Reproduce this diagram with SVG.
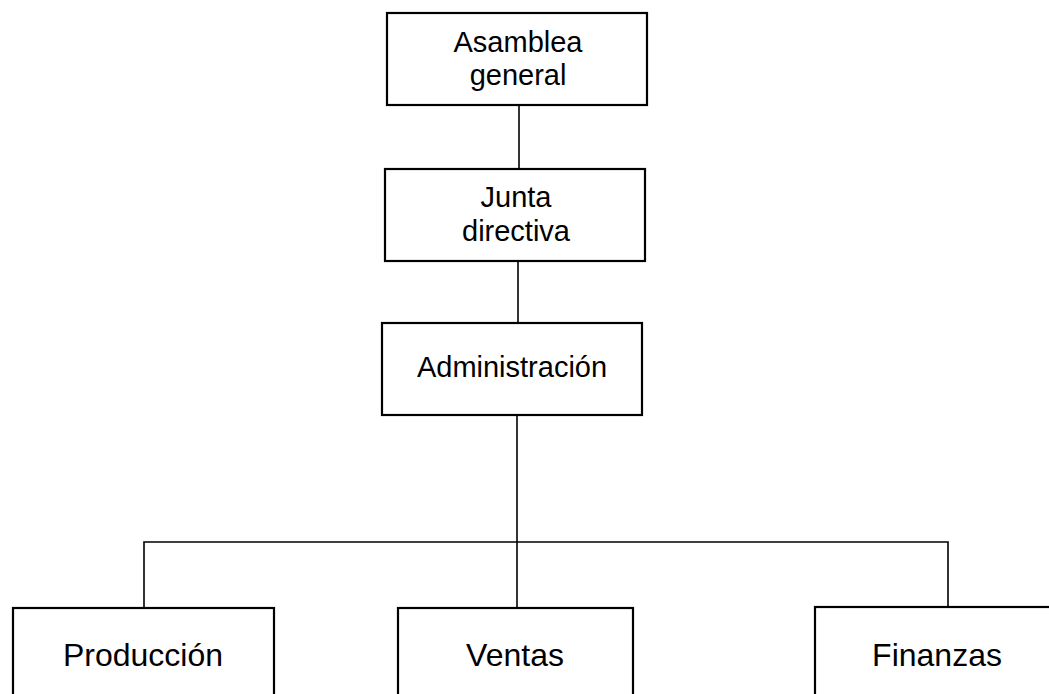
<svg xmlns="http://www.w3.org/2000/svg" width="1049" height="694" viewBox="0 0 1049 694">
<style>
.box{fill:#fff;stroke:#000;stroke-width:2.2}
.ln{fill:none;stroke:#000;stroke-width:1.6}
text{font-family:"Liberation Sans",Arial,sans-serif;font-size:29px;fill:#000;text-anchor:middle}
text.big{font-size:32px}
</style>
<rect width="1049" height="694" fill="#fff"/>
<g id="connectors">
<line class="ln" x1="519" y1="105" x2="519" y2="169"/>
<line class="ln" x1="518" y1="261" x2="518" y2="323"/>
<line class="ln" x1="517" y1="415" x2="517" y2="608"/>
<polyline class="ln" points="144,608 144,542 948,542 948,607"/>
</g>
<g id="asamblea">
<rect class="box" x="387" y="13" width="260" height="92"/>
<text x="518" y="52">Asamblea</text>
<text x="518" y="85">general</text>
</g>
<g id="junta">
<rect class="box" x="385" y="169" width="260" height="92"/>
<text x="516" y="207">Junta</text>
<text x="516" y="241">directiva</text>
</g>
<g id="administracion">
<rect class="box" x="382" y="323" width="260" height="92"/>
<text x="512" y="377">Administración</text>
</g>
<g id="produccion">
<rect class="box" x="13" y="608" width="261" height="100"/>
<text class="big" x="143" y="666">Producción</text>
</g>
<g id="ventas">
<rect class="box" x="398" y="608" width="235" height="100"/>
<text class="big" x="515" y="666">Ventas</text>
</g>
<g id="finanzas">
<rect class="box" x="815" y="607" width="250" height="100"/>
<text class="big" x="937" y="666">Finanzas</text>
</g>
</svg>
